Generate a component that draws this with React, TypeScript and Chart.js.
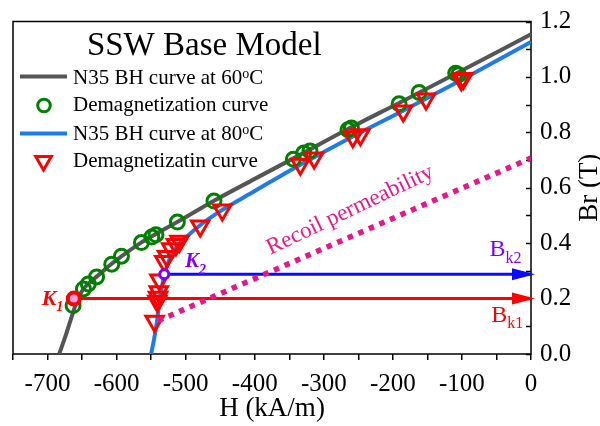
import React, { useEffect, useRef } from 'react';
import { Chart, registerables } from 'chart.js';

Chart.register(...registerables);

const FONT = '"Liberation Serif", "Times New Roman", Times, serif';

// N35 BH curve at 60°C (H in kA/m, B in T)
const bh60H = [-683, -672, -663, -657, -648, -638, -628, -607, -585, -564, -547, -511, -459, -400, -344, -265, -191, -107, 0];
const bh60B = [0, 0.08, 0.15, 0.195, 0.235, 0.26, 0.281, 0.326, 0.367, 0.403, 0.428, 0.478, 0.553, 0.632, 0.706, 0.812, 0.906, 1.014, 1.154];

// N35 BH curve at 80°C
const bh80H = [-550, -546, -542, -539, -536, -533, -530, -526, -520, -512, -500, -480, -447, -400, -345, -300, -258, -186, -100, 0];
const bh80B = [0, 0.05, 0.11, 0.166, 0.22, 0.26, 0.29, 0.325, 0.36, 0.39, 0.42, 0.463, 0.52, 0.588, 0.668, 0.729, 0.785, 0.877, 0.99, 1.126];

// Demagnetization curve (60°C) markers
const demag60H = [-663, -648, -641, -629, -607, -593, -564, -549, -543, -512, -459, -344, -329, -320, -265, -260, -191, -162, -109, -105];
const demag60B = [0.175, 0.235, 0.253, 0.278, 0.324, 0.353, 0.402, 0.422, 0.43, 0.476, 0.552, 0.703, 0.725, 0.733, 0.809, 0.816, 0.903, 0.944, 1.013, 1.008];

// Demagnetizatin curve (80°C) markers
const demag80H = [-545, -541, -540, -539, -538, -531, -527, -521, -514, -509, -479, -447, -334, -314, -258, -247, -185, -152, -101, -98];
const demag80B = [0.118, 0.19, 0.205, 0.225, 0.267, 0.334, 0.352, 0.38, 0.395, 0.407, 0.462, 0.52, 0.685, 0.707, 0.784, 0.791, 0.877, 0.92, 0.99, 0.994];

// Recoil permeability line
const recoilH = [-540, 0];
const recoilB = [0.12, 0.707];

// Knee points and arrows
const k1H = -662;
const bk1 = 0.2;
const k2H = -531;
const bk2 = 0.288;
const arrowEndH = 0;

// Axes
const xMin = -750;
const xMax = 0;
const xStep = 50;
const yMin = 0;
const yMax = 1.2;
const yStep = 0.1;

const legendItems = [
  { text: 'N35 BH curve at 60', sup: 'o', tail: 'C' },
  { text: 'Demagnetization curve', sup: '', tail: '' },
  { text: 'N35 BH curve at 80', sup: 'o', tail: 'C' },
  { text: 'Demagnetizatin curve', sup: '', tail: '' },
];

const C_GRAY = '#555555';
const C_BLUE = '#1f7be6';
const C_GREEN = '#008000';
const C_RED = '#ff0000';
const C_ARROW_BLUE = '#0a0aff';
const C_PURPLE = '#8000ff';
const C_MAGENTA = '#e8168c';
const C_PINK = '#f2a0e4';

const pts = (xs: number[], ys: number[]) => xs.map((x, i) => ({ x, y: ys[i] }));

function txt(ctx: CanvasRenderingContext2D, s: string, x: number, y: number, size: number, color: string, style = '') {
  ctx.font = `${style} ${size}px ${FONT}`.trim();
  ctx.fillStyle = color;
  ctx.fillText(s, x, y);
  return ctx.measureText(s).width;
}

function triangleDown(ctx: CanvasRenderingContext2D, x: number, y: number, r: number) {
  ctx.beginPath();
  ctx.moveTo(x, y + r);
  ctx.lineTo(x - 0.866 * r, y - 0.5 * r);
  ctx.lineTo(x + 0.866 * r, y - 0.5 * r);
  ctx.closePath();
}

const overlay = {
  id: 'overlay',
  beforeDatasetsDraw(chart: any) {
    const { ctx, chartArea: a } = chart;
    const ys = chart.scales.y;
    ctx.save();
    ctx.strokeStyle = '#000';
    ctx.lineWidth = 1.5;
    ctx.strokeRect(a.left, a.top, a.right - a.left, a.bottom - a.top);
    for (let v = yMin; v <= yMax + 1e-9; v += yStep) {
      const py = Math.round(ys.getPixelForValue(v)) + 0.5;
      ctx.beginPath();
      ctx.moveTo(a.right - 5, py);
      ctx.lineTo(a.right, py);
      ctx.stroke();
    }
    ctx.restore();
  },
  afterDatasetsDraw(chart: any) {
    const { ctx, chartArea: a } = chart;
    const xs = chart.scales.x;
    const ys = chart.scales.y;
    ctx.save();
    ctx.textAlign = 'left';
    ctx.textBaseline = 'alphabetic';

    // arrowheads
    const head = (b: number, color: string) => {
      const tip = xs.getPixelForValue(arrowEndH) + 4;
      const py = ys.getPixelForValue(b);
      ctx.fillStyle = color;
      ctx.beginPath();
      ctx.moveTo(tip, py);
      ctx.lineTo(tip - 23, py - 6);
      ctx.lineTo(tip - 23, py + 6);
      ctx.closePath();
      ctx.fill();
    };
    head(bk2, C_ARROW_BLUE);
    head(bk1, C_RED);

    // Title
    txt(ctx, 'SSW Base Model', xs.getPixelForValue(-643), ys.getPixelForValue(1.08), 33, '#000');

    // Legend
    const lx = a.left;
    const ty = a.top;
    ctx.lineWidth = 4;
    ctx.strokeStyle = C_GRAY;
    ctx.beginPath();
    ctx.moveTo(lx + 7, ty + 55);
    ctx.lineTo(lx + 54, ty + 55);
    ctx.stroke();
    ctx.strokeStyle = C_BLUE;
    ctx.beginPath();
    ctx.moveTo(lx + 7, ty + 112);
    ctx.lineTo(lx + 54, ty + 112);
    ctx.stroke();
    ctx.lineWidth = 3;
    ctx.strokeStyle = C_GREEN;
    ctx.beginPath();
    ctx.arc(lx + 31, ty + 84, 6.3, 0, Math.PI * 2);
    ctx.stroke();
    ctx.lineWidth = 3;
    ctx.strokeStyle = C_RED;
    triangleDown(ctx, lx + 30.5, ty + 139.5, 9);
    ctx.stroke();

    const baselines = [62, 89, 118.5, 145];
    legendItems.forEach((it, i) => {
      const bx = lx + 60;
      const by = ty + baselines[i];
      const w = txt(ctx, it.text, bx, by, 21, '#000');
      if (it.sup) {
        const w2 = txt(ctx, it.sup, bx + w, by - 6, 14, '#000');
        txt(ctx, it.tail, bx + w + w2, by, 21, '#000');
      }
    });

    // Knee labels
    let px = xs.getPixelForValue(-708.5);
    let py = ys.getPixelForValue(0.176);
    let w = txt(ctx, 'K', px, py, 22, C_RED, 'italic bold');
    txt(ctx, '1', px + w, py + 6, 14, C_RED, 'italic bold');

    px = xs.getPixelForValue(-501);
    py = ys.getPixelForValue(0.313);
    w = txt(ctx, 'K', px, py, 21, C_PURPLE, 'italic bold');
    txt(ctx, '2', px + w, py + 7, 14, C_PURPLE, 'italic bold');

    px = xs.getPixelForValue(-60.2);
    py = ys.getPixelForValue(0.352);
    w = txt(ctx, 'B', px, py, 24, C_PURPLE);
    txt(ctx, 'k2', px + w, py + 7, 16, C_PURPLE);

    px = xs.getPixelForValue(-57.4);
    py = ys.getPixelForValue(0.116);
    w = txt(ctx, 'B', px, py, 24, C_RED);
    txt(ctx, 'k1', px + w, py + 6, 16, C_RED);

    // Recoil permeability
    ctx.save();
    ctx.translate(xs.getPixelForValue(-377), ys.getPixelForValue(0.358));
    ctx.rotate((-25.5 * Math.PI) / 180);
    txt(ctx, 'Recoil permeability', 0, 0, 23, C_MAGENTA);
    ctx.restore();

    // Y axis title (right side, reading upward)
    ctx.save();
    ctx.translate(a.right + 66, (a.top + a.bottom) / 2);
    ctx.rotate(-Math.PI / 2);
    ctx.textAlign = 'center';
    txt(ctx, 'Br (T)', 0, 0, 27, '#000');
    ctx.restore();

    ctx.restore();
  },
};

export default function App() {
  const ref = useRef<HTMLCanvasElement>(null);
  useEffect(() => {
    const canvas = ref.current;
    if (!canvas) return;
    const chart = new Chart(canvas, {
      type: 'line',
      data: {
        datasets: [
          {
            label: 'K1',
            data: pts([k1H], [bk1]),
            showLine: false,
            pointRadius: 6,
            pointBorderWidth: 4,
            pointBorderColor: C_RED,
            pointBackgroundColor: C_PINK,
            order: 0,
          },
          {
            label: 'K2',
            data: pts([k2H], [bk2]),
            showLine: false,
            pointRadius: 4.5,
            pointBorderWidth: 3,
            pointBorderColor: C_PURPLE,
            pointBackgroundColor: '#ffffff',
            order: 1,
          },
          {
            label: 'Recoil permeability',
            data: pts(recoilH, recoilB),
            borderColor: C_MAGENTA,
            borderWidth: 5.5,
            borderDash: [5.5, 6],
            borderCapStyle: 'butt',
            pointRadius: 0,
            order: 2,
          },
          {
            label: 'Bk1',
            data: pts([k1H, arrowEndH], [bk1, bk1]),
            borderColor: C_RED,
            borderWidth: 3,
            pointRadius: 0,
            order: 3,
          },
          {
            label: 'Bk2',
            data: pts([k2H, arrowEndH], [bk2, bk2]),
            borderColor: C_ARROW_BLUE,
            borderWidth: 3,
            pointRadius: 0,
            order: 4,
          },
          {
            label: 'Demagnetizatin curve',
            data: pts(demag80H, demag80B),
            showLine: false,
            pointStyle: 'triangle',
            pointRotation: 180,
            pointRadius: 10,
            pointBorderWidth: 3,
            pointBorderColor: C_RED,
            pointBackgroundColor: 'rgba(0,0,0,0)',
            order: 5,
          },
          {
            label: 'Demagnetization curve',
            data: pts(demag60H, demag60B),
            showLine: false,
            pointStyle: 'circle',
            pointRadius: 7,
            pointBorderWidth: 3,
            pointBorderColor: C_GREEN,
            pointBackgroundColor: 'rgba(0,0,0,0)',
            order: 6,
          },
          {
            label: 'N35 BH curve at 80°C',
            data: pts(bh80H, bh80B),
            borderColor: C_BLUE,
            borderWidth: 4,
            pointRadius: 0,
            cubicInterpolationMode: 'monotone',
            order: 7,
          },
          {
            label: 'N35 BH curve at 60°C',
            data: pts(bh60H, bh60B),
            borderColor: C_GRAY,
            borderWidth: 4,
            pointRadius: 0,
            cubicInterpolationMode: 'monotone',
            order: 8,
          },
        ],
      },
      options: {
        responsive: false,
        animation: false,
        devicePixelRatio: 1,
        layout: { padding: { left: 8, top: 13, right: 0, bottom: 0 } },
        plugins: {
          legend: { display: false },
          tooltip: { enabled: false },
          title: { display: false },
        },
        scales: {
          x: {
            type: 'linear',
            position: 'bottom',
            min: xMin,
            max: xMax,
            afterFit: (s: any) => {
              s.height = 72;
            },
            ticks: {
              stepSize: xStep,
              autoSkip: false,
              maxRotation: 0,
              minRotation: 0,
              padding: 12,
              color: '#000',
              font: { family: FONT, size: 25, lineHeight: 1 },
              callback: (v: any) => (Math.round(v) % 100 === 0 ? String(Math.round(v)) : ''),
            },
            grid: {
              display: true,
              drawOnChartArea: false,
              drawTicks: true,
              tickLength: 6,
              color: '#000',
              lineWidth: 1.5,
            },
            border: { display: false },
            title: {
              display: true,
              text: 'H (kA/m)',
              color: '#000',
              font: { family: FONT, size: 27 },
              padding: { top: 0, bottom: 1 },
            },
          },
          y: {
            type: 'linear',
            position: 'right',
            min: yMin,
            max: yMax,
            afterFit: (s: any) => {
              s.width = 69;
            },
            ticks: {
              stepSize: yStep,
              autoSkip: false,
              padding: 9,
              color: '#000',
              font: { family: FONT, size: 25, lineHeight: 1 },
              callback: (v: any) => {
                const t = Math.round(v * 10);
                return t % 2 === 0 ? (t / 10).toFixed(1) : '';
              },
            },
            grid: { display: false, drawTicks: false },
            border: { display: false },
          },
        },
      },
      plugins: [overlay],
    } as any);
    return () => chart.destroy();
  }, []);

  return (
    <div style={{ position: 'absolute', left: 0, top: 0, width: 600, height: 426, background: '#fff' }}>
      <canvas ref={ref} width={600} height={426} style={{ display: 'block', width: 600, height: 426 }} />
    </div>
  );
}
